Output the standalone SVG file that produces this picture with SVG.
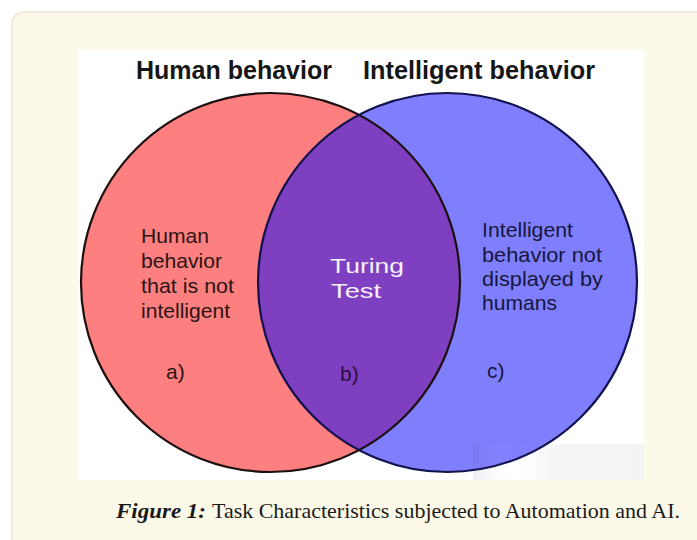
<svg xmlns="http://www.w3.org/2000/svg" width="697" height="540" viewBox="0 0 697 540">
  <defs>
    <style>
      .head { font-family: "Liberation Sans", Arial, sans-serif; font-weight: bold; font-size: 25px; fill: #161616; }
      .body { font-family: "Liberation Sans", Arial, sans-serif; font-size: 21px; }
      .on-red { fill: #2b1414; }
      .on-blue { fill: #16163c; }
      .on-purple { fill: #2a0f3c; }
      .caption { font-family: "Liberation Serif", "Times New Roman", serif; font-size: 22px; fill: #1a1a1a; }
    </style>
    <clipPath id="clip-human">
      <circle cx="270.5" cy="282.5" r="189.5"/>
    </clipPath>
    <linearGradient id="patch" x1="0" y1="0" x2="1" y2="0">
      <stop offset="0" stop-color="#3c3c6e" stop-opacity="0.09"/>
      <stop offset="0.25" stop-color="#ffffff" stop-opacity="0.0"/>
      <stop offset="0.45" stop-color="#3c3c6e" stop-opacity="0.05"/>
      <stop offset="1" stop-color="#3c3c6e" stop-opacity="0.06"/>
    </linearGradient>
  </defs>

  <!-- page background and figure frame -->
  <rect x="0" y="0" width="697" height="540" fill="#ffffff"/>
  <rect x="12" y="12" width="700" height="545" rx="12" ry="12" fill="#fdf9e8" stroke="#eeeadb" stroke-width="2"/>

  <!-- image area -->
  <rect x="78" y="50" width="566" height="430" fill="#ffffff"/>

  <!-- set titles -->
  <g id="titles">
    <text class="head" x="136" y="79" textLength="196" lengthAdjust="spacingAndGlyphs">Human behavior</text>
    <text class="head" x="363" y="79" textLength="232" lengthAdjust="spacingAndGlyphs">Intelligent behavior</text>
  </g>

  <!-- set a: human behaviour -->
  <g id="human-behavior">
    <circle cx="270.5" cy="282.5" r="189.5" fill="#fe7f7f"/>
  </g>

  <!-- set c: intelligent behaviour -->
  <g id="intelligent-behavior">
    <circle cx="447.5" cy="282.5" r="189.5" fill="#7f7ffe"/>
  </g>

  <!-- set b: intersection -->
  <g id="turing-test">
    <circle cx="447.5" cy="282.5" r="189.5" fill="#7e3fc1" clip-path="url(#clip-human)"/>
  </g>

  <!-- outlines -->
  <g id="outlines" fill="none" stroke-width="2.2">
    <circle cx="270.5" cy="282.5" r="189.5" stroke="#1e1010"/>
    <circle cx="447.5" cy="282.5" r="189.5" stroke="#12124e"/>
  </g>

  <!-- faint patch at lower right of the image -->
  <rect x="473" y="444" width="171" height="36" fill="url(#patch)"/>

  <!-- region labels -->
  <g id="label-a">
    <text class="body on-red" x="141" y="243" textLength="68" lengthAdjust="spacingAndGlyphs">Human</text>
    <text class="body on-red" x="141" y="268" textLength="81" lengthAdjust="spacingAndGlyphs">behavior</text>
    <text class="body on-red" x="141" y="293" textLength="93" lengthAdjust="spacingAndGlyphs">that is not</text>
    <text class="body on-red" x="141" y="318" textLength="89" lengthAdjust="spacingAndGlyphs">intelligent</text>
    <text class="body on-red" x="166" y="379">a)</text>
  </g>

  <g id="label-b">
    <text class="body" x="330" y="273" font-size="26" fill="#f6f0fb" textLength="74" lengthAdjust="spacingAndGlyphs">Turing</text>
    <text class="body" x="331" y="298" font-size="26" fill="#f6f0fb" textLength="50" lengthAdjust="spacingAndGlyphs">Test</text>
    <text class="body on-purple" x="340" y="381">b)</text>
  </g>

  <g id="label-c">
    <text class="body on-blue" x="482" y="237" textLength="91" lengthAdjust="spacingAndGlyphs">Intelligent</text>
    <text class="body on-blue" x="482" y="262" textLength="120" lengthAdjust="spacingAndGlyphs">behavior not</text>
    <text class="body on-blue" x="482" y="286" textLength="121" lengthAdjust="spacingAndGlyphs">displayed by</text>
    <text class="body on-blue" x="482" y="310" textLength="75" lengthAdjust="spacingAndGlyphs">humans</text>
    <text class="body on-blue" x="487" y="378">c)</text>
  </g>

  <!-- caption -->
  <g id="caption">
    <text class="caption" x="116" y="518" font-weight="bold" font-style="italic" textLength="90" lengthAdjust="spacingAndGlyphs">Figure 1:</text>
    <text class="caption" x="212" y="518" textLength="468" lengthAdjust="spacingAndGlyphs">Task Characteristics subjected to Automation and AI.</text>
  </g>
</svg>
